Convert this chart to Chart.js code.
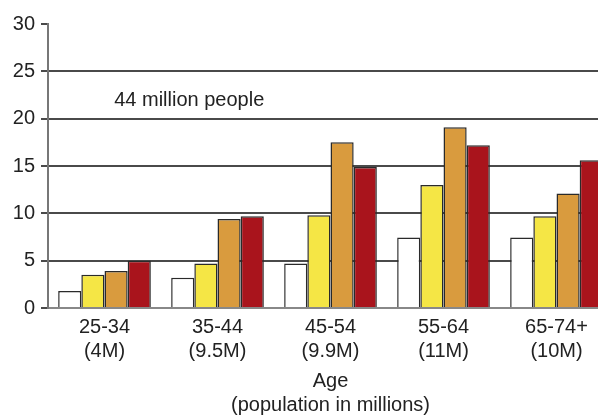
<!DOCTYPE html>
<html>
<head>
<meta charset="utf-8">
<script src="https://cdn.jsdelivr.net/npm/chart.js@4/dist/chart.umd.min.js"></script>
<style>
  html, body { margin: 0; padding: 0; background: #fff; }
  #wrap { width: 598px; height: 417px; overflow: hidden; }
</style>
</head>
<body>
<div id="wrap"><canvas id="chart" width="613" height="417"></canvas></div>
<script>
const ageGroups = [['25-34', '(4M)'], ['35-44', '(9.5M)'], ['45-54', '(9.9M)'], ['55-64', '(11M)'], ['65-74+', '(10M)']]
const seriesA = [1.8, 3.2, 4.7, 7.45, 7.45]
const seriesB = [3.5, 4.7, 9.8, 13.0, 9.7]
const seriesC = [3.9, 9.4, 17.5, 19.1, 12.1]
const seriesD = [5.0, 9.7, 14.9, 17.2, 15.6]
const noteText = '44 million people'
const noteAt = { x: 0.75, y: 21.9 }

const ink = '#222'
const font = { family: '"Liberation Sans", Arial, sans-serif', size: 20 }

// free text placed in data coordinates
const notePlugin = {
  id: 'note',
  afterDatasetsDraw(chart) {
    const { ctx, scales: { x, y } } = chart
    ctx.save()
    ctx.font = `${font.size}px ${font.family}`
    ctx.fillStyle = ink
    ctx.textAlign = 'center'
    ctx.textBaseline = 'middle'
    ctx.fillText(noteText, x.getPixelForValue(noteAt.x), y.getPixelForValue(noteAt.y))
    ctx.restore()
  }
}

const bar = (data, color) => ({ data, backgroundColor: color, borderColor: '#2a2a2a', borderWidth: 1.5 })

new Chart(document.getElementById('chart'), {
  type: 'bar',
  data: {
    labels: ageGroups,
    datasets: [
      bar(seriesA, '#ffffff'),
      bar(seriesB, '#f5e645'),
      bar(seriesC, '#d99b3e'),
      bar(seriesD, '#a9141c')
    ]
  },
  options: {
    responsive: false,
    animation: false,
    layout: { padding: { top: 24, right: 0, left: 0, bottom: 0 } },
    datasets: { bar: { categoryPercentage: 0.82, barPercentage: 1 } },
    plugins: { legend: { display: false }, tooltip: { enabled: false } },
    scales: {
      x: {
        grid: { display: false, drawTicks: false, tickLength: 0 },
        border: { color: '#888', width: 2 },
        ticks: { color: ink, font, padding: 7, maxRotation: 0 },
        title: { display: true, text: ['Age', '(population in millions)'], color: ink, font, padding: 0 },
        afterFit: s => { s.height = 109 }
      },
      y: {
        min: 0, max: 30,
        grid: { color: c => c.tick.value === 30 ? 'rgba(0,0,0,0)' : '#4a4a4a', lineWidth: 2, tickColor: '#4a4a4a', tickLength: 7 },
        border: { color: '#777', width: 2 },
        ticks: { stepSize: 5, color: ink, font, padding: 6 },
        afterFit: s => { s.width = 48 }
      }
    }
  },
  plugins: [notePlugin]
})
</script>
</body>
</html>
